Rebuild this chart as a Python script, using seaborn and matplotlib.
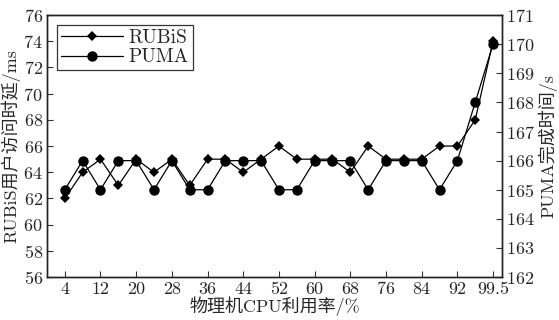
import matplotlib
matplotlib.use('Agg')
import matplotlib.pyplot as plt
import seaborn as sns
import pandas as pd

# x categories (uniformly spaced), only every other one labelled
cpu_util = ['4', '8', '12', '16', '20', '24', '28', '32', '36', '40', '44', '48', '52',
            '56', '60', '64', '68', '72', '76', '80', '84', '88', '92', '96', '99.5']
rubis_latency = [62, 64, 65, 63, 65, 64, 65, 63, 65, 65, 64, 65, 66,
                 65, 65, 65, 64, 66, 65, 65, 65, 66, 66, 68, 74]
puma_time = [165, 166, 165, 166, 166, 165, 166, 165, 165, 166, 166, 166, 165,
             165, 166, 166, 166, 165, 166, 166, 166, 165, 166, 168, 170]

sns.set_theme(style='ticks')
plt.rcParams['font.family'] = ['cmr10', 'Noto Sans CJK SC']
plt.rcParams['axes.formatter.use_mathtext'] = True
plt.rcParams['xtick.direction'] = 'in'
plt.rcParams['ytick.direction'] = 'in'

df = pd.DataFrame({'pos': range(len(cpu_util)),
                   'rubis': rubis_latency,
                   'puma': puma_time})

fig = plt.figure(figsize=(5.59, 3.2), dpi=100)
ax = fig.add_axes([0.084, 0.134, 0.814, 0.819])
ax2 = ax.twinx()

sns.lineplot(data=df, x='pos', y='rubis', ax=ax, color='black', lw=0.9,
             marker='D', markersize=5, markeredgewidth=0, label='RUBiS', legend=False)
sns.lineplot(data=df, x='pos', y='puma', ax=ax2, color='black', lw=0.9,
             marker='o', markersize=7.5, markeredgewidth=0, label='PUMA', legend=False)

ax.set_xlim(-1, 24.5)
ax.set_ylim(56, 76)
ax.set_yticks(range(56, 77, 2))
ax2.set_ylim(162, 171)
ax2.set_yticks(range(162, 172))
ax.set_xticks(range(0, len(cpu_util), 2))
ax.set_xticklabels(cpu_util[::2])

for a in (ax, ax2):
    a.tick_params(labelsize=13, length=4, width=0.8, color='#333333', pad=3)
    for s in a.spines.values():
        s.set_color('#222222')
        s.set_linewidth(1.0)

ax.set_xlabel('物理机CPU利用率/%', fontsize=13, labelpad=0)
ax.set_ylabel('RUBiS用户访问时延/ms', fontsize=13, labelpad=2)
ax2.set_ylabel('PUMA完成时间/s', fontsize=13, labelpad=2)

h1, l1 = ax.get_legend_handles_labels()
h2, l2 = ax2.get_legend_handles_labels()
leg = ax2.legend(h1 + h2, l1 + l2, loc='upper left', fontsize=14, frameon=True,
                 fancybox=False, edgecolor='black', handlelength=3.2,
                 borderpad=0.2, labelspacing=0.1, handletextpad=0.3,
                 borderaxespad=0.5)
leg.get_frame().set_linewidth(0.9)

fig.savefig('out.png', dpi=100)
